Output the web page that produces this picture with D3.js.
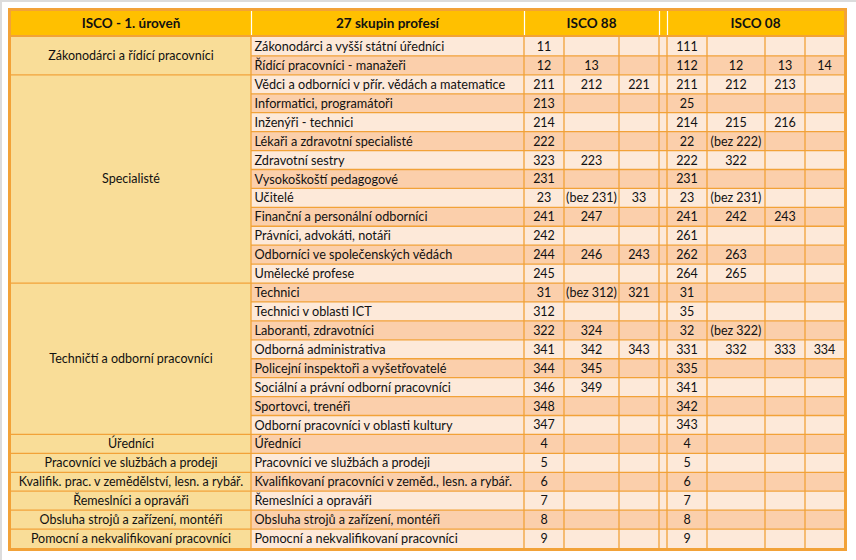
<!DOCTYPE html>
<html>
<head>
<meta charset="utf-8">
<script src="https://cdn.jsdelivr.net/npm/d3@7/dist/d3.min.js"></script>
<style>
  html, body { margin: 0; padding: 0; background: #fff; }
  svg { display: block; }
  text { font-family: Lato, "Open Sans", sans-serif; fill: #111; }
</style>
</head>
<body>
<svg id="chart" width="856" height="560"></svg>
<script>
// ---- DATA ----
const headers = ["ISCO - 1. úroveň", "27 skupin profesí", "ISCO 88", "ISCO 08"];

const groups = [
  "Zákonodárci a řídící pracovníci",
  "Specialisté",
  "Techničtí a odborní pracovníci",
  "Úředníci",
  "Pracovníci ve službách a prodeji",
  "Kvalifik. prac. v zemědělství, lesn. a rybář.",
  "Řemeslníci a opraváři",
  "Obsluha strojů a zařízení, montéři",
  "Pomocní a nekvalifikovaní pracovníci"
];
const groupSizes = [2, 11, 8, 1, 1, 1, 1, 1, 1];

const professions = [
  "Zákonodárci a vyšší státní úředníci",
  "Řídící pracovníci - manažeři",
  "Vědci a odborníci v přír. vědách a matematice",
  "Informatici, programátoři",
  "Inženýři - technici",
  "Lékaři a zdravotní specialisté",
  "Zdravotní sestry",
  "Vysokoškoští pedagogové",
  "Učitelé",
  "Finanční a personální odborníci",
  "Právníci, advokáti, notáři",
  "Odborníci ve společenských vědách",
  "Umělecké profese",
  "Technici",
  "Technici v oblasti ICT",
  "Laboranti, zdravotníci",
  "Odborná administrativa",
  "Policejní inspektoři a vyšetřovatelé",
  "Sociální a právní odborní pracovníci",
  "Sportovci, trenéři",
  "Odborní pracovníci v oblasti kultury",
  "Úředníci",
  "Pracovníci ve službách a prodeji",
  "Kvalifikovaní pracovníci v zeměd., lesn. a rybář.",
  "Řemeslníci a opraváři",
  "Obsluha strojů a zařízení, montéři",
  "Pomocní a nekvalifikovaní pracovníci"
];

const isco88 = [
  ["11"], ["12","13"], ["211","212","221"], ["213"], ["214"], ["222"],
  ["323","223"], ["231"], ["23","(bez 231)","33"], ["241","247"], ["242"],
  ["244","246","243"], ["245"], ["31","(bez 312)","321"], ["312"], ["322","324"],
  ["341","342","343"], ["344","345"], ["346","349"], ["348"], ["347"],
  ["4"], ["5"], ["6"], ["7"], ["8"], ["9"]
];

const isco08 = [
  ["111"], ["112","12","13","14"], ["211","212","213"], ["25"], ["214","215","216"],
  ["22","(bez 222)"], ["222","322"], ["231"], ["23","(bez 231)"], ["241","242","243"],
  ["261"], ["262","263"], ["264","265"], ["31"], ["35"], ["32","(bez 322)"],
  ["331","332","333","334"], ["335"], ["341"], ["342"], ["343"],
  ["4"], ["5"], ["6"], ["7"], ["8"], ["9"]
];

// ---- LAYOUT ----
const W = 856, H = 560;
const outer = {x0: 8, y0: 8, x1: 847, y1: 551, bw: 3};
const headTop = 11, headBot = 35, bodyTop = 37, bodyBot = 548;
const colEdges = {
  c1: [11, 251], c2: [251, 524],
  i88: [524, 564, 619, 659], gap: [659, 667],
  i08: [667, 707, 765, 805, 844]
};
const C = {
  header: "#FFC000",
  col1: "#F9DD98",
  light: "#FDE9D9",
  dark: "#FBCFAB",
  line: "#F2A238"
};

const svg = d3.select("#chart");
svg.append("rect").attr("width", W).attr("height", H).attr("fill", "#fff");
// thin gray frame on top / left
svg.append("rect").attr("x", 0).attr("y", 0).attr("width", W).attr("height", 2).attr("fill", "#DCDCDC");
svg.append("rect").attr("x", 0).attr("y", 0).attr("width", 2).attr("height", H).attr("fill", "#DCDCDC");

const n = professions.length;
const y = d3.scaleBand().domain(d3.range(n)).range([bodyTop, bodyBot]).padding(0);
const rh = y.bandwidth();

// ---- header ----
svg.append("rect").attr("x", outer.x0).attr("y", outer.y0)
  .attr("width", outer.x1 - outer.x0).attr("height", headBot - outer.y0 + 2).attr("fill", C.line);
svg.append("rect").attr("x", colEdges.c1[0]).attr("y", headTop)
  .attr("width", colEdges.i08[4] - colEdges.c1[0]).attr("height", headBot - headTop).attr("fill", C.header);

// ---- body rows ----
const x0 = colEdges.c1[0], xEnd = colEdges.i08[4];
svg.append("g").selectAll("rect").data(professions).join("rect")
  .attr("x", colEdges.c2[0]).attr("y", (d, i) => y(i))
  .attr("width", xEnd - colEdges.c2[0]).attr("height", rh)
  .attr("fill", (d, i) => i % 2 === 0 ? C.light : C.dark);

// group column
const groupStart = d3.cumsum([0, ...groupSizes]);
const groupData = groups.map((g, i) => ({name: g, start: groupStart[i], size: groupSizes[i]}));
svg.append("g").selectAll("rect").data(groupData).join("rect")
  .attr("x", x0).attr("y", d => y(d.start))
  .attr("width", colEdges.c1[1] - x0).attr("height", d => rh * d.size)
  .attr("fill", C.col1);

// ---- grid lines ----
const grid = svg.append("g").attr("stroke", C.line).attr("stroke-width", 1.3).attr("fill", "none");
grid.selectAll("line.h").data(d3.range(1, n)).join("line").attr("class", "h")
  .attr("x1", colEdges.c2[0]).attr("x2", xEnd)
  .attr("y1", i => y(i)).attr("y2", i => y(i));
grid.selectAll("line.g").data(groupData.slice(1)).join("line").attr("class", "g")
  .attr("x1", x0).attr("x2", colEdges.c2[0])
  .attr("y1", d => y(d.start)).attr("y2", d => y(d.start));
const vlines = [colEdges.c1[1], ...colEdges.i88, colEdges.gap[1], ...colEdges.i08.slice(1, 4)];
grid.selectAll("line.v").data(vlines).join("line").attr("class", "v")
  .attr("x1", d => d).attr("x2", d => d)
  .attr("y1", bodyTop - 1).attr("y2", bodyBot);
svg.append("rect").attr("x", x0).attr("y", headBot).attr("width", xEnd - x0).attr("height", 2).attr("fill", C.line);
svg.append("g").selectAll("line").data([colEdges.c1[1], colEdges.c2[1], colEdges.gap[0], colEdges.gap[1]]).join("line")
  .attr("x1", d => d + 0.5).attr("x2", d => d + 0.5)
  .attr("y1", headTop).attr("y2", headBot)
  .attr("stroke", "#fff").attr("stroke-width", 1.2);

// outer border
svg.append("rect")
  .attr("x", outer.x0 + outer.bw / 2).attr("y", outer.y0 + outer.bw / 2)
  .attr("width", outer.x1 - outer.x0 - outer.bw).attr("height", outer.y1 - outer.y0 - outer.bw)
  .attr("fill", "none").attr("stroke", C.line).attr("stroke-width", outer.bw);

// ---- texts ----
const fs = 12.5;
const hdr = svg.append("g").attr("font-weight", "bold").attr("font-size", 13.5).attr("text-anchor", "middle");
const headerCenters = [
  (colEdges.c1[0] + colEdges.c1[1]) / 2,
  (colEdges.c2[0] + colEdges.c2[1]) / 2,
  (colEdges.i88[0] + colEdges.i88[3]) / 2,
  (colEdges.i08[0] + colEdges.i08[4]) / 2
];
hdr.selectAll("text").data(headers).join("text")
  .attr("x", (d, i) => headerCenters[i]).attr("y", (headTop + headBot) / 2)
  .attr("dy", "0.36em").text(d => d);

svg.append("g").attr("font-size", fs).attr("text-anchor", "middle")
  .selectAll("text").data(groupData).join("text")
  .attr("x", (colEdges.c1[0] + colEdges.c1[1]) / 2)
  .attr("y", d => y(d.start) + rh * d.size / 2)
  .attr("dy", "0.36em").text(d => d.name);

svg.append("g").attr("font-size", 12.7)
  .selectAll("text").data(professions).join("text")
  .attr("x", colEdges.c2[0] + 3.5)
  .attr("y", (d, i) => y(i) + rh / 2)
  .attr("dy", "0.36em").text(d => d);

function codeCells(data, edges) {
  const cells = [];
  data.forEach((row, i) => row.forEach((v, j) => cells.push({i, v, cx: (edges[j] + edges[j + 1]) / 2})));
  return cells;
}
const codes = svg.append("g").attr("font-size", fs).attr("text-anchor", "middle");
codes.selectAll("text.a").data(codeCells(isco88, colEdges.i88)).join("text").attr("class", "a")
  .attr("x", d => d.cx).attr("y", d => y(d.i) + rh / 2).attr("dy", "0.36em").text(d => d.v);
codes.selectAll("text.b").data(codeCells(isco08, colEdges.i08)).join("text").attr("class", "b")
  .attr("x", d => d.cx).attr("y", d => y(d.i) + rh / 2).attr("dy", "0.36em").text(d => d.v);
</script>
</body>
</html>
